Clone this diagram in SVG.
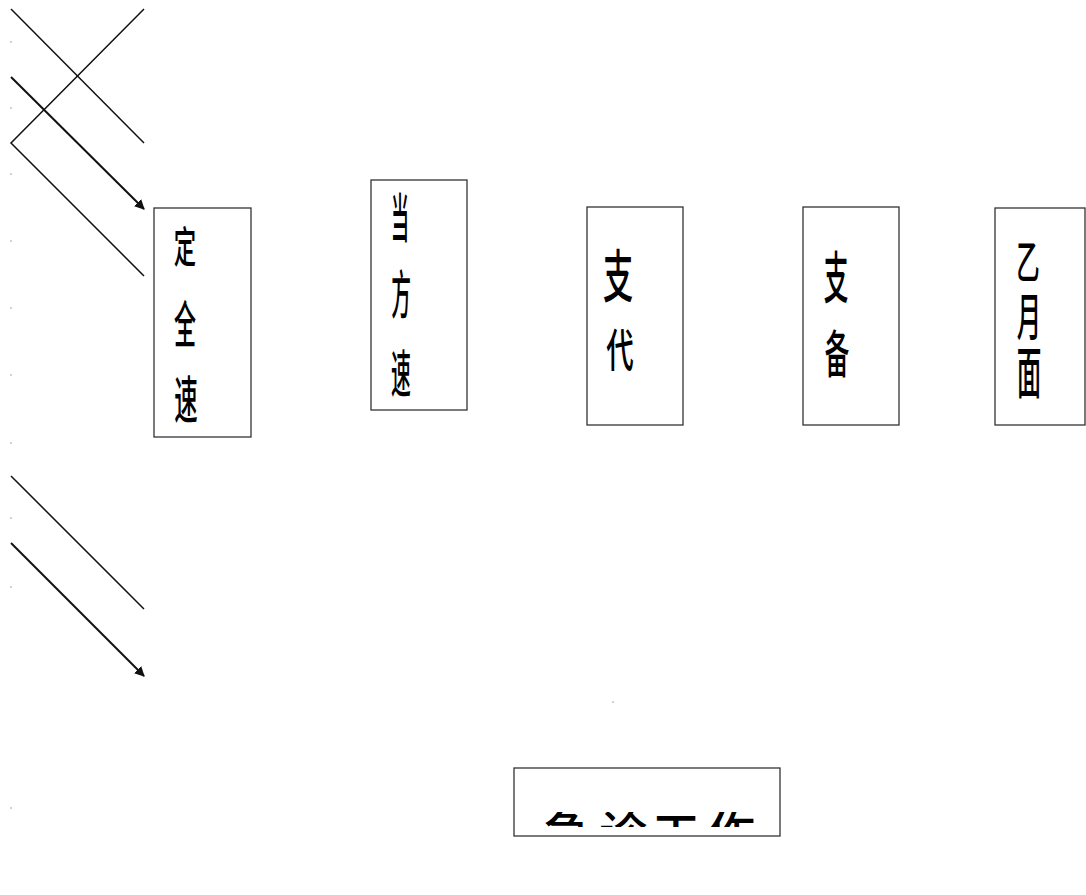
<svg xmlns="http://www.w3.org/2000/svg" width="1086" height="895" viewBox="0 0 1086 895">
<style>
.box{fill:#fff;stroke:#333;stroke-width:1.3}
.ln{fill:none;stroke:#111;stroke-width:1.5}
.ar{fill:none;stroke:#111;stroke-width:2}
.t{font-family:"Noto Sans CJK SC","Noto Sans CJK JP",sans-serif;font-weight:500;fill:#000;text-anchor:middle}
.dot{fill:#999}
</style>
<defs>
<marker id="ah" viewBox="0 0 10 10" refX="9" refY="5" markerWidth="5" markerHeight="5" orient="auto" markerUnits="strokeWidth">
<path d="M0,0 L10,5 L0,10 z" fill="#111"/>
</marker>
<clipPath id="cb"><rect x="514" y="812" width="266" height="15"/></clipPath>
</defs>
<rect width="1086" height="895" fill="#fff"/>
<g id="dots">
<circle class="dot" cx="11" cy="42" r="0.8"/><circle class="dot" cx="11" cy="108" r="0.8"/>
<circle class="dot" cx="11" cy="174" r="0.8"/><circle class="dot" cx="11" cy="241" r="0.8"/>
<circle class="dot" cx="11" cy="308" r="0.8"/><circle class="dot" cx="11" cy="375" r="0.8"/>
<circle class="dot" cx="11" cy="443" r="0.8"/><circle class="dot" cx="11" cy="518" r="0.8"/>
<circle class="dot" cx="11" cy="587" r="0.8"/><circle class="dot" cx="11" cy="808" r="0.8"/>
<circle class="dot" cx="613" cy="702" r="0.8"/>
</g>
<g id="connectors">
<line class="ln" x1="11" y1="9" x2="144" y2="143"/>
<polyline class="ln" points="144,9 11,143 144,276"/>
<line class="ar" x1="11" y1="77" x2="144" y2="209" marker-end="url(#ah)"/>
<line class="ln" x1="11" y1="476" x2="144" y2="609"/>
<line class="ar" x1="11" y1="543" x2="144" y2="676" marker-end="url(#ah)"/>
</g>
<g id="node1">
<rect class="box" x="154" y="208" width="97" height="229"/>
<text class="t" font-size="43" transform="translate(185,263) scale(0.52,1)">定</text>
<text class="t" font-size="50" transform="translate(185,343) scale(0.44,1)">全</text>
<text class="t" font-size="51" transform="translate(186,419) scale(0.46,1)">速</text>
</g>
<g id="node2">
<rect class="box" x="371" y="180" width="96" height="230"/>
<text class="t" font-size="53" transform="translate(400,238) scale(0.34,1)">当</text>
<text class="t" font-size="52" transform="translate(401,314) scale(0.38,1)">方</text>
<text class="t" font-size="51" transform="translate(401,393) scale(0.39,1)">速</text>
</g>
<g id="node3">
<rect class="box" x="587" y="207" width="96" height="218"/>
<text class="t" font-size="57" transform="translate(618,297) scale(0.53,1)">支</text>
<text class="t" font-size="45" transform="translate(620,367) scale(0.61,1)">代</text>
</g>
<g id="node4">
<rect class="box" x="803" y="207" width="96" height="218"/>
<text class="t" font-size="56" transform="translate(836,298) scale(0.44,1)">支</text>
<text class="t" font-size="51" transform="translate(837,373) scale(0.48,1)">备</text>
</g>
<g id="node5">
<rect class="box" x="995" y="208" width="90" height="217"/>
<text class="t" font-size="45" transform="translate(1028,279) scale(0.52,1)">乙</text>
<text class="t" font-size="51" transform="translate(1029,336) scale(0.48,1)">月</text>
<text class="t" font-size="56" transform="translate(1029,393) scale(0.44,1)">面</text>
</g>
<g id="node6">
<rect class="box" x="514" y="768" width="266" height="68"/>
<g clip-path="url(#cb)">
<text class="t" font-size="48" x="567" y="851">急</text>
<text class="t" font-size="48" x="623" y="851">诊</text>
<text class="t" font-size="48" x="676" y="851">工</text>
<text class="t" font-size="48" x="731" y="851">作</text>
</g>
</g>
</svg>
